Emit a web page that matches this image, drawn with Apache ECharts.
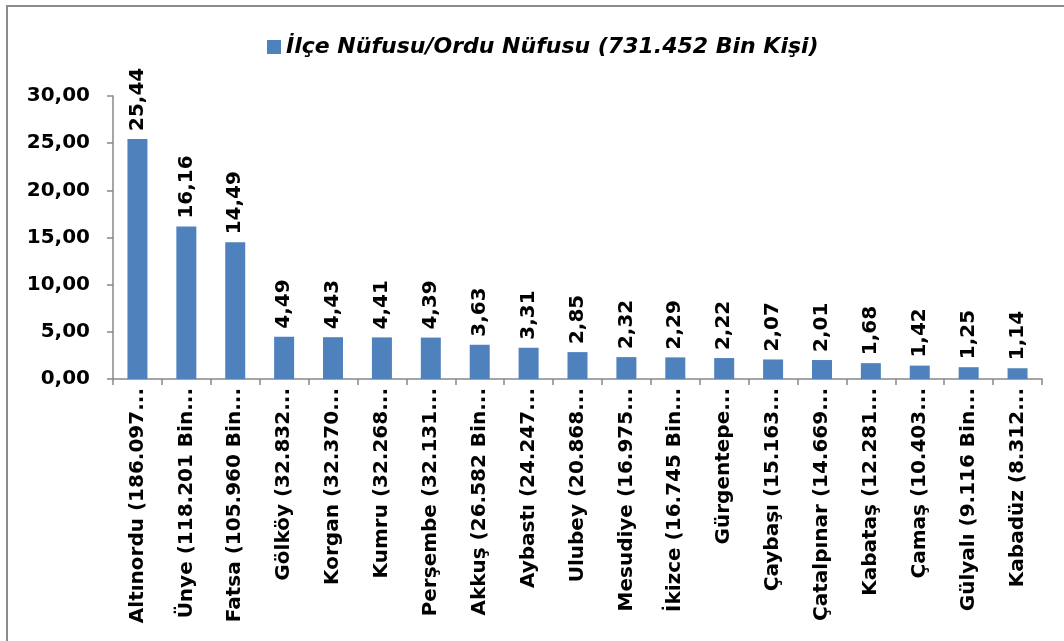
<!DOCTYPE html>
<html>
<head>
<meta charset="utf-8">
<script src="https://cdn.jsdelivr.net/npm/echarts@6/dist/echarts.min.js"></script>
<style>html,body{margin:0;padding:0;background:#fff;}#c{width:1064px;height:641px;}</style>
</head>
<body>
<div id="c"></div>
<script>
const categories = [
  "Altınordu (186.097...", "Ünye (118.201 Bin...", "Fatsa (105.960 Bin...",
  "Gölköy (32.832...", "Korgan (32.370...", "Kumru (32.268...",
  "Perşembe (32.131...", "Akkuş (26.582 Bin...", "Aybastı (24.247...",
  "Ulubey (20.868...", "Mesudiye (16.975...", "İkizce (16.745 Bin...",
  "Gürgentepe...", "Çaybaşı (15.163...", "Çatalpınar (14.669...",
  "Kabataş (12.281...", "Çamaş (10.403...", "Gülyalı (9.116 Bin...",
  "Kabadüz (8.312..."
];
const values = [25.44, 16.16, 14.49, 4.49, 4.43, 4.41, 4.39, 3.63, 3.31, 2.85, 2.32, 2.29, 2.22, 2.07, 2.01, 1.68, 1.42, 1.25, 1.14];
const seriesName = "İlçe Nüfusu/Ordu Nüfusu (731.452 Bin Kişi)";
const yTicks = { min: 0, max: 30, interval: 5 };

const fmt = v => v.toFixed(2).replace('.', ',');
const FONT = "DejaVu Sans";

const chart = echarts.init(document.getElementById('c'), null, { renderer: 'canvas' });
chart.setOption({
  animation: false,
  backgroundColor: '#ffffff',
  textStyle: { fontFamily: FONT },
  legend: {
    data: [seriesName],
    left: 262, top: 31,
    itemWidth: 14, itemHeight: 14, itemGap: 6,
    icon: 'rect',
    textStyle: { fontFamily: FONT, fontSize: 22, fontWeight: 'bold', fontStyle: 'italic', color: '#000' }
  },
  grid: { left: 113, right: 22, top: 96, bottom: 262, containLabel: false },
  xAxis: {
    type: 'category',
    data: categories,
    axisLine: { lineStyle: { color: '#888', width: 1.5 } },
    axisTick: { show: true, alignWithLabel: false, length: 6, lineStyle: { color: '#888', width: 1.5 } },
    axisLabel: {
      interval: 0, rotate: 90, margin: 9,
      fontFamily: FONT, fontSize: 20, fontWeight: 'bold', color: '#000'
    }
  },
  yAxis: {
    type: 'value',
    min: yTicks.min, max: yTicks.max, interval: yTicks.interval,
    splitLine: { show: false },
    axisLine: { show: true, lineStyle: { color: '#888', width: 1.5 } },
    axisTick: { show: true, length: 6, lineStyle: { color: '#888', width: 1.5 } },
    axisLabel: {
      margin: 23, formatter: v => fmt(v),
      fontFamily: FONT, fontSize: 20, fontWeight: 'bold', color: '#000'
    }
  },
  series: [{
    name: seriesName,
    type: 'bar',
    data: values,
    barWidth: 20,
    itemStyle: { color: '#4F81BD' },
    label: {
      show: true, position: 'top', rotate: 90, distance: 8,
      align: 'left', verticalAlign: 'middle',
      formatter: p => fmt(p.value),
      fontFamily: FONT, fontSize: 20, fontWeight: 'bold', color: '#000'
    }
  }],
  graphic: [
    { type: 'line', shape: { x1: 6, y1: 6, x2: 1064, y2: 6 }, style: { stroke: '#8c8c8c', lineWidth: 2 } },
    { type: 'line', shape: { x1: 7, y1: 6, x2: 7, y2: 641 }, style: { stroke: '#8c8c8c', lineWidth: 2 } }
  ]
});
</script>
</body>
</html>
